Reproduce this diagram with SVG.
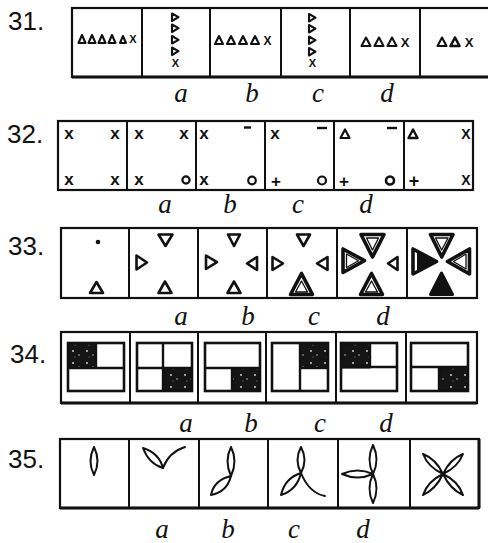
<svg xmlns="http://www.w3.org/2000/svg" width="488" height="543" viewBox="0 0 488 543">
<defs>
<style>
.box{fill:#fff;stroke:#111;stroke-width:2.2}
.div{stroke:#111;stroke-width:2}
.num{font-family:"Liberation Sans",Arial,sans-serif;font-size:26px;fill:#111}
.lab{font-family:"Liberation Serif","Times New Roman",serif;font-style:italic;font-size:27px;fill:#111;text-anchor:middle}
.sym{font-family:"Liberation Sans",Arial,sans-serif;font-weight:bold;fill:#111;text-anchor:middle}
.t1{fill:#fff;stroke:#111;stroke-width:2.1;stroke-linejoin:round}
.t3{fill:#fff;stroke:#111;stroke-width:2.6;stroke-linejoin:round}
.tb{fill:#fff;stroke:#111;stroke-width:3.6;stroke-linejoin:round}
.ti{fill:none;stroke:#111;stroke-width:1.3;stroke-linejoin:round}
.tf{fill:#111;stroke:#111;stroke-width:2;stroke-linejoin:round}
.inner{fill:#fff;stroke:#111;stroke-width:2.6}
.dk{fill:url(#speck);stroke:#111;stroke-width:1}
.leaf{fill:#fff;stroke:#111;stroke-width:2;stroke-linejoin:round}
.stem{fill:none;stroke:#111;stroke-width:2;stroke-linecap:round}
.ring{fill:none;stroke:#111;stroke-width:2.2}
.dash{stroke:#111;stroke-width:2.4}
</style>
<pattern id="speck" width="14" height="12" patternUnits="userSpaceOnUse">
<rect width="14" height="12" fill="#151515"/>
<circle cx="3" cy="3" r="0.9" fill="#ddd"/>
<circle cx="9" cy="7" r="0.8" fill="#bbb"/>
<circle cx="5" cy="9" r="0.6" fill="#999"/>
</pattern>
</defs>
<rect width="488" height="543" fill="#fff"/>

<!-- Row 31 -->
<g id="row31">
<text class="num" x="8" y="30">31.</text>
<rect class="box" x="72" y="8" width="418" height="69"/>
<line class="div" x1="72" y1="77" x2="488" y2="77" style="stroke-width:3"/>
<g class="div"><line x1="142" y1="8" x2="142" y2="77"/><line x1="210" y1="8" x2="210" y2="77"/><line x1="281" y1="8" x2="281" y2="77"/><line x1="350" y1="8" x2="350" y2="77"/><line x1="420" y1="8" x2="420" y2="77"/></g>
<g id="n31-0">
<polygon class="t1" points="82,35 78.5,43 85.5,43"/><polygon class="t1" points="92,35 88.5,43 95.5,43"/><polygon class="t1" points="102,35 98.5,43 105.5,43"/><polygon class="t1" points="112,35 108.5,43 115.5,43"/><polygon class="t1" points="123,36 120,43 126,43"/>
<text class="sym" x="133" y="43" font-size="11">X</text>
</g>
<g id="n31-a">
<polygon class="t1" points="172,13.5 172,21 178.5,17.2"/><polygon class="t1" points="172,24.5 172,32 178.5,28.2"/><polygon class="t1" points="172,36 172,43.5 178.5,39.8"/><polygon class="t1" points="172,47.5 172,55 178.5,51.2"/>
<text class="sym" x="175.5" y="67" font-size="11">X</text>
</g>
<g id="n31-b">
<polygon class="t1" points="219,36 215,44 223,44"/><polygon class="t1" points="231,36 227,44 235,44"/><polygon class="t1" points="243,36 239,44 247,44"/><polygon class="t1" points="255,36 251,44 259,44"/>
<text class="sym" x="267.5" y="44.5" font-size="12">X</text>
</g>
<g id="n31-c">
<polygon class="t1" points="309,14 309,21.5 315.5,17.7"/><polygon class="t1" points="309,25 309,32.5 315.5,28.7"/><polygon class="t1" points="309,36.5 309,44 315.5,40.2"/><polygon class="t1" points="309,48 309,55.5 315.5,51.7"/>
<text class="sym" x="312.5" y="67" font-size="11">X</text>
</g>
<g id="n31-d">
<polygon class="t1" points="366,37.5 361.5,46 370.5,46"/><polygon class="t1" points="379,37.5 374.5,46 383.5,46"/><polygon class="t1" points="392,37.5 387.5,46 396.5,46"/>
<text class="sym" x="405" y="46.5" font-size="13">X</text>
</g>
<g id="n31-e">
<polygon class="t1" points="442,37.5 437.5,46 446.5,46"/><polygon class="t1" points="455,37.5 450.5,46 459.5,46" style="stroke-width:2.6"/>
<text class="sym" x="469" y="46.5" font-size="13">X</text>
</g>
<text class="lab" x="181" y="102">a</text><text class="lab" x="252" y="102">b</text><text class="lab" x="318" y="102">c</text><text class="lab" x="387" y="102">d</text>
</g>

<!-- Row 32 -->
<g id="row32">
<text class="num" x="7" y="143">32.</text>
<rect class="box" x="58" y="121" width="415" height="69"/>
<g class="div"><line x1="127" y1="121" x2="127" y2="190"/><line x1="196" y1="121" x2="196" y2="190"/><line x1="265" y1="121" x2="265" y2="190"/><line x1="334" y1="121" x2="334" y2="190"/><line x1="404" y1="121" x2="404" y2="190"/></g>
<g id="n32-0" class="sym" font-size="17">
<text x="69" y="138.5">x</text><text x="115" y="138.5">x</text><text x="69" y="184.5">x</text><text x="115" y="184.5">x</text>
</g>
<g id="n32-a" class="sym" font-size="17">
<text x="139" y="138.5">x</text><text x="184" y="138.5">x</text><text x="139" y="184.5">x</text>
<circle class="ring" cx="186" cy="180" r="3.6"/>
</g>
<g id="n32-b" class="sym" font-size="17">
<text x="204" y="138.5">x</text><line class="dash" x1="244" y1="127.5" x2="251" y2="127.5"/><text x="204" y="184.5">x</text>
<circle class="ring" cx="252" cy="180.5" r="3.8"/>
</g>
<g id="n32-c" class="sym" font-size="17">
<text x="275" y="138.5">x</text><line class="dash" x1="317" y1="128" x2="327" y2="128"/><text x="276" y="186.5">+</text>
<circle class="ring" cx="322" cy="180.5" r="4"/>
</g>
<g id="n32-d" class="sym" font-size="17">
<polygon class="t1" points="345,129.5 340.5,138 349.5,138" style="stroke-width:2.2"/><line class="dash" x1="387" y1="128" x2="397" y2="128"/><text x="344" y="186.5">+</text>
<circle class="ring" cx="390" cy="180.5" r="4" style="stroke-width:2.6"/>
</g>
<g id="n32-e" class="sym">
<polygon class="t1" points="413,129.5 408.5,138 417.5,138" style="stroke-width:2.4"/><text x="466" y="138.5" font-size="14">X</text><text x="414" y="187" font-size="18">+</text><text x="466" y="184.5" font-size="14">X</text>
</g>
<text class="lab" x="165" y="213">a</text><text class="lab" x="230" y="213">b</text><text class="lab" x="298" y="213">c</text><text class="lab" x="366" y="213">d</text>
</g>

<!-- Row 33 -->
<g id="row33">
<text class="num" x="8" y="255">33.</text>
<rect class="box" x="61" y="228" width="416" height="70"/>
<g class="div"><line x1="129" y1="228" x2="129" y2="298"/><line x1="198" y1="228" x2="198" y2="298"/><line x1="267" y1="228" x2="267" y2="298"/><line x1="337" y1="228" x2="337" y2="298"/><line x1="407" y1="228" x2="407" y2="298"/></g>
<g id="n33-0">
<circle cx="98" cy="242" r="2.3" fill="#111"/>
<polygon class="t3" points="96.5,282 90,293 103,293"/>
</g>
<g id="n33-a">
<polygon class="t3" points="158.5,234.5 172.5,234.5 165.5,246"/>
<polygon class="t3" points="136.5,255.5 136.5,269.5 147,262.5"/>
<polygon class="t3" points="165,281.5 158.5,293 171.5,293"/>
</g>
<g id="n33-b">
<polygon class="t3" points="228,234.5 240,234.5 234,246"/>
<polygon class="t3" points="206,255.5 206,269 217,262.2"/>
<polygon class="t3" points="257,257 257,270 247,263.5"/>
<polygon class="t3" points="234,281.5 227.5,293 240.5,293"/>
</g>
<g id="n33-c">
<polygon class="t3" points="297,234.5 310,234.5 303.5,246"/>
<polygon class="t3" points="272.5,257 272.5,270 283,263.5"/>
<polygon class="t3" points="327.5,257 327.5,270 317,263.5"/>
<polygon class="tb" points="301.5,273.5 290.5,294.5 312.5,294.5"/>
<polygon class="ti" points="301.5,281 295.5,292 307.5,292"/>
</g>
<g id="n33-d">
<polygon class="tb" points="361,234.5 384,234.5 372.5,257"/>
<polygon class="ti" points="366.5,238 378.5,238 372.5,250"/>
<polygon class="tb" points="343,249 343,272.5 364.5,260.7"/>
<polygon class="ti" points="346.5,254 346.5,267.5 358.5,260.7"/>
<polygon class="t3" points="397.5,257 397.5,270 388,263.5"/>
<polygon class="tb" points="371.5,273.5 360.5,294.5 382.5,294.5"/>
<polygon class="ti" points="371.5,281 365.5,292 377.5,292"/>
</g>
<g id="n33-e">
<polygon class="tb" points="430.5,234.5 453,234.5 441.7,257"/>
<polygon class="ti" points="435.5,238 448,238 441.7,250"/>
<polygon class="tb" points="413,249 413,274 436.5,261.5"/>
<polygon class="tf" points="418,253 418,270 432,261.5"/>
<polygon class="tb" points="469.5,249 469.5,274 447.5,261.5"/>
<polygon class="ti" points="466,254 466,269 453.5,261.5"/>
<polygon class="tf" points="441.5,273 430.5,294.5 452.5,294.5" style="stroke-width:3"/>
</g>
<text class="lab" x="181" y="325">a</text><text class="lab" x="248" y="325">b</text><text class="lab" x="314" y="325">c</text><text class="lab" x="383" y="325">d</text>
</g>

<!-- Row 34 -->
<g id="row34">
<text class="num" x="10" y="363">34.</text>
<rect class="box" x="61" y="332" width="416" height="71"/>
<line class="div" x1="61" y1="403" x2="477" y2="403" style="stroke-width:3"/>
<g class="div"><line x1="130" y1="332" x2="130" y2="403"/><line x1="198" y1="332" x2="198" y2="403"/><line x1="266" y1="332" x2="266" y2="403"/><line x1="336" y1="332" x2="336" y2="403"/><line x1="406" y1="332" x2="406" y2="403"/></g>
<g id="n34-0">
<rect class="inner" x="68" y="343" width="56" height="48"/>
<rect class="dk" x="69" y="344" width="27" height="24"/>
<g class="div" style="stroke-width:2.4"><line x1="68" y1="368" x2="124" y2="368"/><line x1="96" y1="343" x2="96" y2="368"/></g>
</g>
<g id="n34-a">
<rect class="inner" x="137" y="343" width="55" height="48"/>
<rect class="dk" x="163" y="368" width="28" height="22"/>
<g class="div" style="stroke-width:2.4"><line x1="137" y1="368" x2="192" y2="368"/><line x1="163" y1="343" x2="163" y2="391"/></g>
</g>
<g id="n34-b">
<rect class="inner" x="205" y="343" width="55" height="48"/>
<rect class="dk" x="232" y="368" width="27" height="22"/>
<g class="div" style="stroke-width:2.4"><line x1="205" y1="368" x2="260" y2="368"/><line x1="232" y1="368" x2="232" y2="391"/></g>
</g>
<g id="n34-c">
<rect class="inner" x="272" y="343" width="56" height="48"/>
<rect class="dk" x="300" y="344" width="27" height="24"/>
<g class="div" style="stroke-width:2.4"><line x1="300" y1="343" x2="300" y2="391"/><line x1="300" y1="368" x2="328" y2="368"/></g>
</g>
<g id="n34-d">
<rect class="inner" x="341" y="343" width="56" height="48"/>
<rect class="dk" x="342" y="344" width="28" height="24"/>
<g class="div" style="stroke-width:2.4"><line x1="341" y1="367" x2="397" y2="367"/><line x1="370" y1="343" x2="370" y2="367"/></g>
</g>
<g id="n34-e">
<rect class="inner" x="411" y="343" width="57" height="48"/>
<rect class="dk" x="439" y="367" width="28" height="23"/>
<g class="div" style="stroke-width:2.4"><line x1="411" y1="367" x2="468" y2="367"/><line x1="439" y1="367" x2="439" y2="391"/></g>
</g>
<text class="lab" x="186" y="432">a</text><text class="lab" x="251" y="432">b</text><text class="lab" x="320" y="432">c</text><text class="lab" x="386" y="432">d</text>
</g>

<!-- Row 35 -->
<g id="row35">
<text class="num" x="8" y="468">35.</text>
<rect class="box" x="60" y="439" width="419" height="69"/>
<line class="div" x1="60" y1="508" x2="479" y2="508" style="stroke-width:3"/>
<line class="div" x1="479" y1="439" x2="479" y2="508" style="stroke-width:3"/>
<g class="div"><line x1="129" y1="439" x2="129" y2="508"/><line x1="199" y1="439" x2="199" y2="508"/><line x1="268" y1="439" x2="268" y2="508"/><line x1="338" y1="439" x2="338" y2="508"/><line x1="410" y1="439" x2="410" y2="508"/></g>
<g id="n35-0">
<path class="leaf" d="M94,447 Q101,461 94,475 Q87,461 94,447 Z"/>
</g>
<g id="n35-a">
<path class="leaf" d="M143,448 Q149,464 163,468 Q159,453 143,448 Z"/>
<path class="stem" d="M163,468 Q169,452 185,447"/>
</g>
<g id="n35-b">
<path class="leaf" d="M231,447 Q238,461 231,476 Q224,461 231,447 Z"/>
<path class="leaf" d="M231,476 Q227,492 211,495 Q214,480 231,476 Z"/>
</g>
<g id="n35-c">
<path class="leaf" d="M301,447 Q308,460 301,473 Q294,460 301,447 Z"/>
<path class="leaf" d="M301,473 Q297,490 281,495 Q285,478 301,473 Z"/>
<path class="stem" d="M301,473 Q309,493 325,496"/>
</g>
<g id="n35-d">
<path class="leaf" d="M373,445 Q380,459.5 373,474 Q366,459.5 373,445 Z"/>
<path class="leaf" d="M373,474 Q380,488.5 373,503 Q366,488.5 373,474 Z"/>
<path class="leaf" d="M342,474 Q357.5,467 373,474 Q357.5,481 342,474 Z"/>
</g>
<g id="n35-e">
<path class="leaf" d="M443,474 Q428,467 423,454 Q436,459 443,474 Z"/>
<path class="leaf" d="M443,474 Q450,459 463,454 Q458,467 443,474 Z"/>
<path class="leaf" d="M443,474 Q428,481 423,495 Q436,489 443,474 Z"/>
<path class="leaf" d="M443,474 Q450,489 463,495 Q458,481 443,474 Z"/>
</g>
<text class="lab" x="162" y="538">a</text><text class="lab" x="228" y="538">b</text><text class="lab" x="294" y="538">c</text><text class="lab" x="363" y="538">d</text>
</g>
</svg>
